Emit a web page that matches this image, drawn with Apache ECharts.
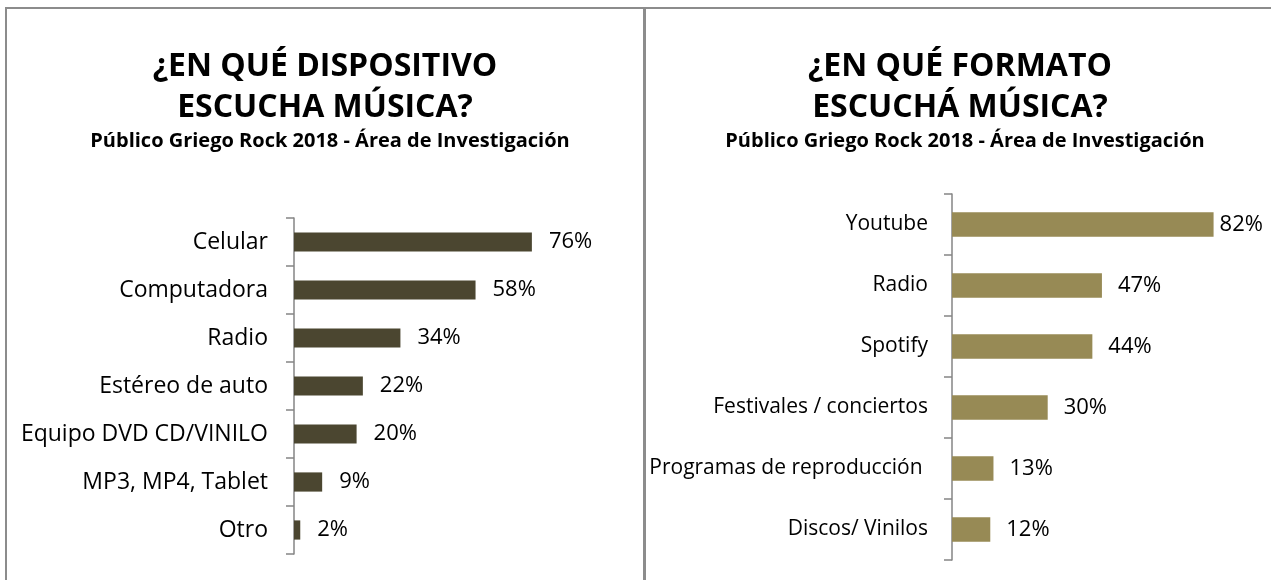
<!DOCTYPE html>
<html>
<head>
<meta charset="utf-8">
<script src="https://cdn.jsdelivr.net/npm/echarts@6/dist/echarts.min.js"></script>
<style>
  html, body { margin: 0; padding: 0; background: #fff; }
  #chart { width: 1271px; height: 580px; }
</style>
</head>
<body>
<div id="chart"></div>
<script>
// left chart: dispositivos
const deviceCategories = ['Celular', 'Computadora', 'Radio', 'Estéreo de auto', 'Equipo DVD CD/VINILO', 'MP3, MP4, Tablet', 'Otro']
const deviceValues = [76, 58, 34, 22, 20, 9, 2]

// right chart: formatos
const formatCategories = ['Youtube', 'Radio', 'Spotify', 'Festivales / conciertos', 'Programas de reproducción ', 'Discos/ Vinilos']
const formatValues = [82, 47, 44, 30, 13, 12]

const font = '"Open Sans", "Noto Sans", sans-serif'
const axisGrey = '#858585'
const borderGrey = '#8c8c8c'

function catAxis(gridIndex, data, margin, fontSize) {
  return {
    type: 'category',
    gridIndex,
    data,
    inverse: true,
    axisLine: { show: true, lineStyle: { color: axisGrey, width: 1.5 } },
    axisTick: { show: true, length: 8, lineStyle: { color: axisGrey, width: 1.5, opacity: 1 } },
    axisLabel: { color: '#000', fontFamily: font, fontSize, margin },
  }
}

function valAxis(gridIndex) {
  return {
    type: 'value',
    gridIndex,
    min: 0,
    max: 100,
    show: false,
  }
}

const chart = echarts.init(document.getElementById('chart'))
chart.setOption({
  animation: false,
  backgroundColor: '#fff',
  title: [
    {
      text: '¿EN QUÉ DISPOSITIVO\nESCUCHA MÚSICA?',
      left: 320, top: 41, textAlign: 'center',
      textStyle: { fontFamily: font, fontSize: 32, fontWeight: 'bold', color: '#000', lineHeight: 41 },
    },
    {
      text: 'Público Griego Rock 2018 - Área de Investigación',
      left: 325, top: 124, textAlign: 'center',
      textStyle: { fontFamily: font, fontSize: 20, fontWeight: 'bold', color: '#000', lineHeight: 24 },
    },
    {
      text: '¿EN QUÉ FORMATO\nESCUCHÁ MÚSICA?',
      left: 955, top: 41, textAlign: 'center',
      textStyle: { fontFamily: font, fontSize: 32, fontWeight: 'bold', color: '#000', lineHeight: 41 },
    },
    {
      text: 'Público Griego Rock 2018 - Área de Investigación',
      left: 960, top: 124, textAlign: 'center',
      textStyle: { fontFamily: font, fontSize: 20, fontWeight: 'bold', color: '#000', lineHeight: 24 },
    },
  ],
  grid: [
    { left: 294, top: 218, width: 313, height: 336 },
    { left: 952, top: 194, width: 320, height: 366 },
  ],
  xAxis: [valAxis(0), valAxis(1)],
  yAxis: [catAxis(0, deviceCategories, 26, 23), catAxis(1, formatCategories, 24, 21)],
  series: [
    {
      type: 'bar',
      xAxisIndex: 0,
      yAxisIndex: 0,
      data: deviceValues,
      barWidth: '40%',
      itemStyle: { color: '#4b4630' },
      label: {
        show: true, position: 'right', distance: 17,
        formatter: '{c}%', color: '#000', fontFamily: font, fontSize: 22,
      },
    },
    {
      type: 'bar',
      xAxisIndex: 1,
      yAxisIndex: 1,
      // the top label sits closer to its bar (no room on the right)
      data: formatValues.map((v, i) => i === 0 ? { value: v, label: { distance: 6 } } : v),
      barWidth: '40%',
      itemStyle: { color: '#978a55' },
      label: {
        show: true, position: 'right', distance: 16,
        formatter: '{c}%', color: '#000', fontFamily: font, fontSize: 22,
      },
    },
  ],
  graphic: [
    { type: 'line', shape: { x1: 5, y1: 8, x2: 1271, y2: 8 }, style: { stroke: borderGrey, lineWidth: 2 } },
    { type: 'line', shape: { x1: 6, y1: 8, x2: 6, y2: 580 }, style: { stroke: borderGrey, lineWidth: 2 } },
    { type: 'line', shape: { x1: 644.5, y1: 8, x2: 644.5, y2: 580 }, style: { stroke: borderGrey, lineWidth: 3 } },
  ],
})
</script>
</body>
</html>
